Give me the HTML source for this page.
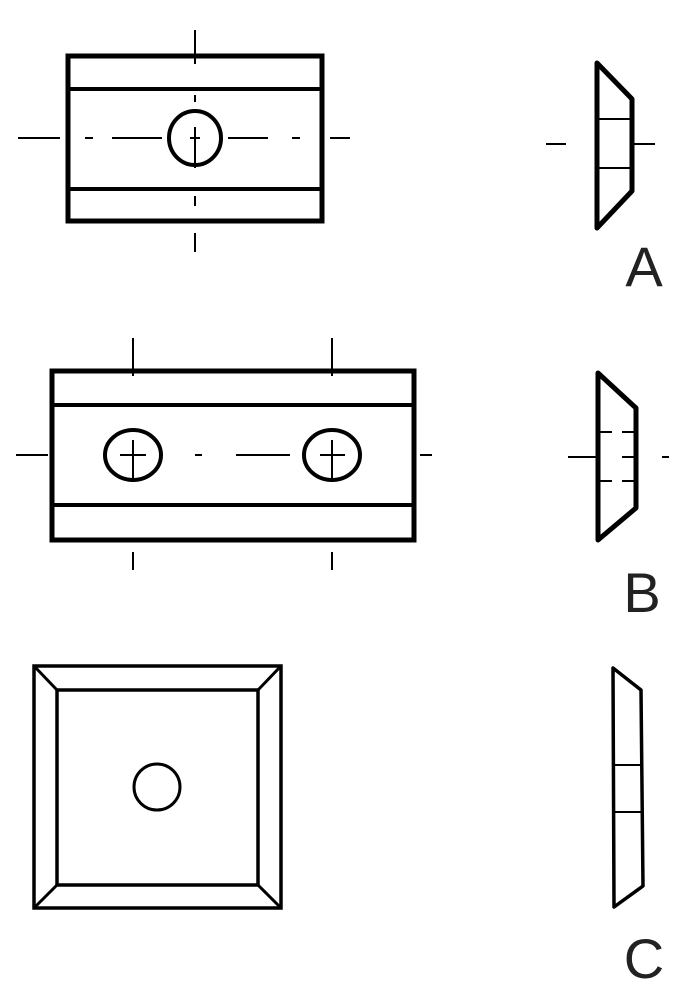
<!DOCTYPE html>
<html><head><style>body{margin:0;background:#fff}svg{display:block}</style></head><body>
<svg width="699" height="1000" viewBox="0 0 699 1000" xmlns="http://www.w3.org/2000/svg">
<g fill="none" stroke="#000" stroke-linecap="butt">
<!-- A main -->
<rect x="68" y="56" width="254" height="165" stroke-width="5"/>
<line x1="68" y1="89" x2="322" y2="89" stroke-width="4"/>
<line x1="68" y1="189" x2="322" y2="189" stroke-width="4"/>
<ellipse cx="195" cy="138" rx="26" ry="27" stroke-width="4"/>
<g stroke-width="2">
<line x1="195" y1="30" x2="195" y2="64"/><line x1="195" y1="95" x2="195" y2="102"/>
<line x1="195" y1="127" x2="195" y2="168"/><line x1="195" y1="196" x2="195" y2="206"/>
<line x1="195" y1="233" x2="195" y2="252"/>
<line x1="18" y1="138" x2="60" y2="138"/><line x1="85" y1="138" x2="93" y2="138"/>
<line x1="112" y1="138" x2="162" y2="138"/><line x1="190" y1="138" x2="200" y2="138"/>
<line x1="228" y1="138" x2="268" y2="138"/><line x1="292" y1="138" x2="300" y2="138"/>
<line x1="330" y1="138" x2="350" y2="138"/>
</g>
<!-- A side -->
<path d="M597 63 L632 99 L632 191 L597 228 Z" stroke-width="5" stroke-linejoin="round"/>
<line x1="597" y1="119" x2="632" y2="119" stroke-width="2"/>
<line x1="597" y1="168" x2="632" y2="168" stroke-width="2"/>
<g stroke-width="2"><line x1="546" y1="144" x2="566" y2="144"/><line x1="634" y1="144" x2="655" y2="144"/></g>
<!-- B main -->
<rect x="52" y="371" width="362" height="169" stroke-width="5"/>
<line x1="52" y1="405" x2="414" y2="405" stroke-width="4"/>
<line x1="52" y1="505" x2="414" y2="505" stroke-width="4"/>
<ellipse cx="133" cy="455" rx="28" ry="25" stroke-width="4"/>
<ellipse cx="332" cy="455" rx="28" ry="25" stroke-width="4"/>
<g stroke-width="2">
<line x1="133" y1="338" x2="133" y2="376"/><line x1="133" y1="440" x2="133" y2="482"/><line x1="133" y1="552" x2="133" y2="570"/>
<line x1="332" y1="338" x2="332" y2="376"/><line x1="332" y1="440" x2="332" y2="482"/><line x1="332" y1="552" x2="332" y2="570"/>
<line x1="16" y1="455" x2="48" y2="455"/><line x1="120" y1="455" x2="146" y2="455"/>
<line x1="195" y1="455" x2="202" y2="455"/><line x1="236" y1="455" x2="290" y2="455"/>
<line x1="320" y1="455" x2="345" y2="455"/><line x1="420" y1="455" x2="432" y2="455"/>
</g>
<!-- B side -->
<path d="M598 373 L636 408 L636 508 L598 540 Z" stroke-width="5" stroke-linejoin="round"/>
<g stroke-width="2">
<line x1="600" y1="432" x2="612" y2="432"/><line x1="622" y1="432" x2="634" y2="432"/>
<line x1="568" y1="457" x2="596" y2="457"/><line x1="622" y1="457" x2="634" y2="457"/>
<line x1="600" y1="481" x2="612" y2="481"/><line x1="622" y1="481" x2="634" y2="481"/>
<line x1="662" y1="457" x2="669" y2="457"/>
</g>
<!-- C main -->
<rect x="34" y="666" width="247" height="242" stroke-width="3.5"/>
<rect x="57" y="690" width="201" height="195" stroke-width="3.5"/>
<g stroke-width="3"><line x1="34" y1="666" x2="57" y2="690"/><line x1="281" y1="666" x2="258" y2="690"/>
<line x1="34" y1="908" x2="57" y2="885"/><line x1="281" y1="908" x2="258" y2="885"/></g>
<circle cx="157" cy="787" r="23" stroke-width="3"/>
<!-- C side -->
<path d="M613 668 L641 690 L643 886 L614 907 Z" stroke-width="3.5" stroke-linejoin="round"/>
<line x1="613" y1="765" x2="642" y2="765" stroke-width="2"/>
<line x1="613" y1="812" x2="642" y2="812" stroke-width="2"/>
</g>
<g font-family="'Liberation Sans', 'DejaVu Sans', sans-serif" font-size="56" fill="#222" text-anchor="middle">
<text x="644" y="286">A</text>
<text x="642" y="612">B</text>
<text x="644" y="978">C</text>
</g>
</svg>
</body></html>
